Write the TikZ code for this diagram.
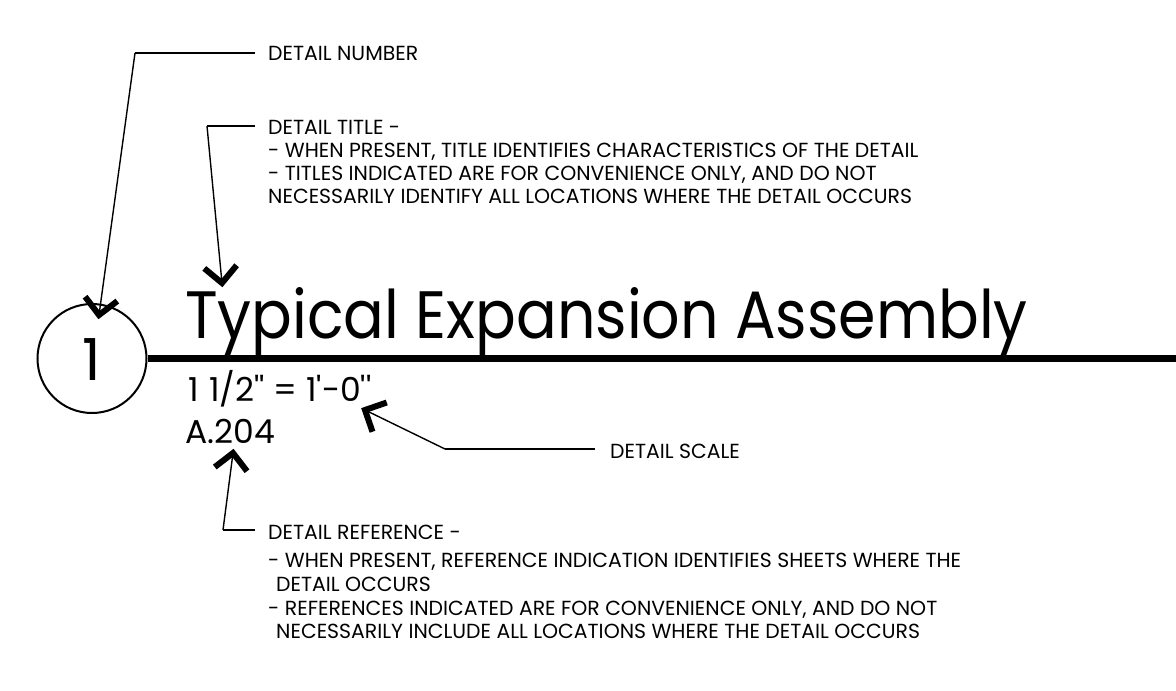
\documentclass[tikz,border=0pt]{standalone}
\usepackage{fontspec}
\setmainfont{Poppins}[Ligatures=TeXOff]
\newfontfamily\titlefont{Poppins}[Ligatures=TeXOff,FakeStretch=0.9]
\usetikzlibrary{calc}
\tikzset{
  lbl/.style={anchor=base west, inner sep=0pt, font=\fontsize{20.4}{20.4}\selectfont},
  leader/.style={line width=1.4pt},
  stub/.style={line width=1.4pt},
  barb/.style={line width=6pt, line join=miter, miter limit=4, line cap=butt},
}
\begin{document}
\begin{tikzpicture}[x=1pt,y=-1pt]
\useasboundingbox[fill=white] (0,0) rectangle (1176,691);
% detail bubble and title line
\node[circle, draw, line width=2pt, minimum size=109pt, inner sep=0pt] (bubble) at (92,358.5) {};
\node[anchor=base, inner sep=0pt, font=\fontsize{58}{58}\selectfont] (num) at (92,380) {1};
\coordinate (lineend) at (1176,358.5);
\draw[line width=7pt] (bubble.east) -- (lineend);
\node[anchor=base west, inner sep=0pt, font=\titlefont\fontsize{67}{67}\selectfont] (title) at (185,338) {Typical Expansion Assembly};
\node[anchor=base west, inner sep=0pt, font=\fontsize{33}{33}\selectfont] (scale) at (188,401) {1\hspace{1.5pt} 1/2'' = 1'-0''};
\node[anchor=base west, inner sep=0pt, font=\fontsize{33}{33}\selectfont] (ref) at (185,443) {A.204};
% labels
\node[lbl] (lnum) at (268,60) {DETAIL NUMBER};
\node[lbl] (ltitle) at (268,134) {DETAIL TITLE -};
\node[lbl] (ltitle2) at (268,157) {- WHEN PRESENT, TITLE IDENTIFIES CHARACTERISTICS OF THE DETAIL};
\node[lbl] (ltitle3) at (268,180) {- TITLES INDICATED ARE FOR CONVENIENCE ONLY, AND DO NOT};
\node[lbl] (ltitle4) at (268,203) {NECESSARILY IDENTIFY ALL LOCATIONS WHERE THE DETAIL OCCURS};
\node[lbl] (lscale) at (610,458) {DETAIL SCALE};
\node[lbl] (lref) at (268,539) {DETAIL REFERENCE -};
\node[lbl] (lref2) at (268,567) {- WHEN PRESENT, REFERENCE INDICATION IDENTIFIES SHEETS WHERE THE};
\node[lbl] (lref3) at (276,591) {DETAIL OCCURS};
\node[lbl] (lref4) at (268,615) {- REFERENCES INDICATED ARE FOR CONVENIENCE ONLY, AND DO NOT};
\node[lbl] (lref5) at (276,638) {NECESSARILY INCLUDE ALL LOCATIONS WHERE THE DETAIL OCCURS};
% leader coordinates
\coordinate (numstub) at (255,53);
\coordinate (numbend) at (135,53);
\coordinate (numtip) at (99,315);
\coordinate (titstub) at (255,126);
\coordinate (titbend) at (207,126);
\coordinate (tittip) at (222,283);
\coordinate (scastub) at (595,449);
\coordinate (scabend) at (445,449);
\coordinate (scatip) at (365,410);
\coordinate (refstub) at (255,530);
\coordinate (refbend) at (223,530);
\coordinate (reftip) at (233,453);
\draw[stub] (numstub) -- (numbend);
\draw[leader] (numbend) -- (numtip);
\draw[barb] ($(numtip)!23pt!45:(numbend)$) -- (numtip) -- ($(numtip)!23pt!-45:(numbend)$);
\draw[stub] (titstub) -- (titbend);
\draw[leader] (titbend) -- (tittip);
\draw[barb] ($(tittip)!23pt!45:(titbend)$) -- (tittip) -- ($(tittip)!23pt!-45:(titbend)$);
\draw[stub] (scastub) -- (scabend);
\draw[leader] (scabend) -- (scatip);
\draw[barb] ($(scatip)!23pt!45:(scabend)$) -- (scatip) -- ($(scatip)!23pt!-45:(scabend)$);
\draw[stub] (refstub) -- (refbend);
\draw[leader] (refbend) -- (reftip);
\draw[barb] ($(reftip)!23pt!45:(refbend)$) -- (reftip) -- ($(reftip)!23pt!-45:(refbend)$);
\end{tikzpicture}
\end{document}
